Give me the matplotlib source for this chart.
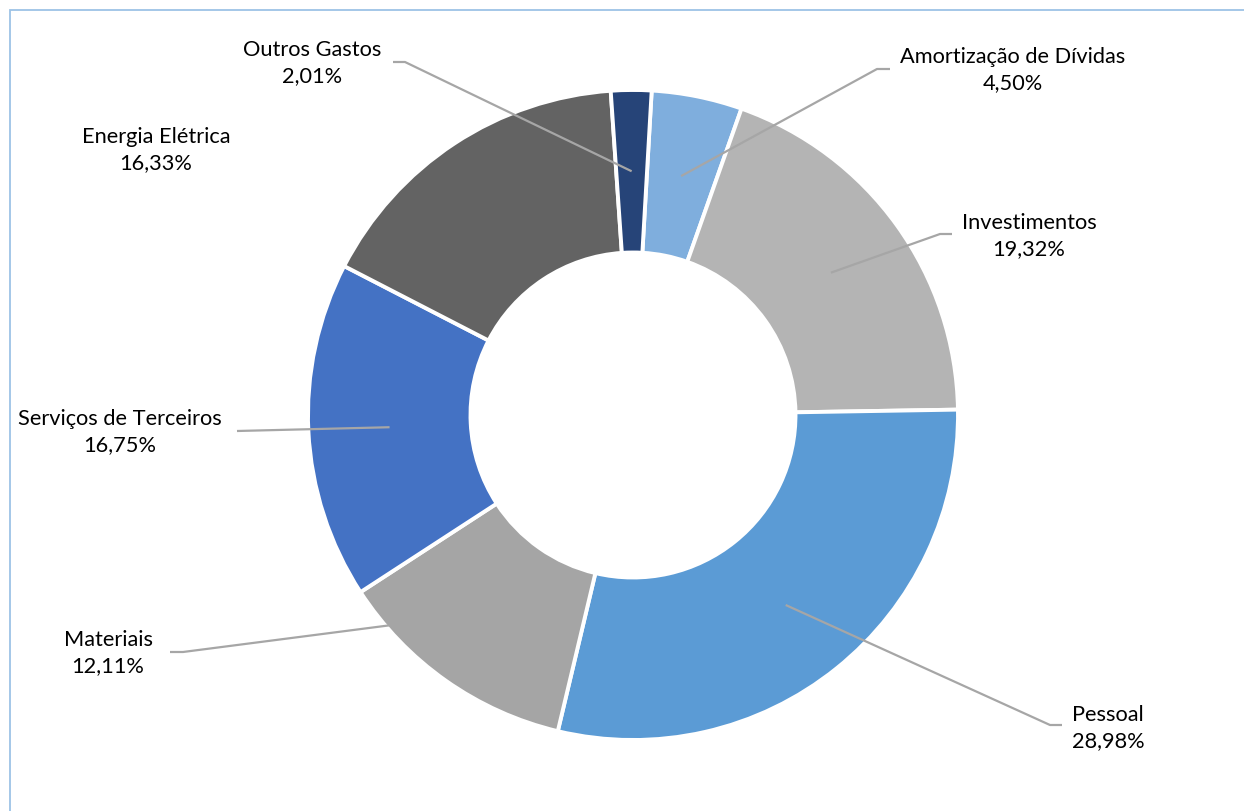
import numpy as np
import matplotlib
matplotlib.use("Agg")
import matplotlib.pyplot as plt
from matplotlib.patches import Rectangle

# Budget composition by expense group (%)
categories = ["Amortização de Dívidas", "Investimentos", "Pessoal", "Materiais",
              "Serviços de Terceiros", "Energia Elétrica", "Outros Gastos"]
shares = [4.50, 19.32, 28.98, 12.11, 16.75, 16.33, 2.01]
colors = ["#7FAEDD", "#B4B4B4", "#5B9BD5", "#A5A5A5", "#4472C4", "#636363", "#264478"]

W, H = 1244, 811
plt.rcParams["font.family"] = ["Lato", "DejaVu Sans"]

fig = plt.figure(figsize=(W / 100, H / 100), dpi=100)
ax = fig.add_axes([0, 0, 1, 1])

def Y(y):
    # convert a top-based pixel row to the axes' bottom-based y
    return H - y

cx, cy = 633, Y(415)
R = 325
wedges, _ = ax.pie(shares, colors=colors, startangle=90 - 3.3, counterclock=False,
                   radius=R, center=(cx, cy),
                   wedgeprops=dict(width=R * 0.5, edgecolor="white", linewidth=2.8))
ax.set_xlim(0, W)
ax.set_ylim(0, H)
ax.set_aspect("equal")
ax.axis("off")

# chart-area border
ax.add_patch(Rectangle((9.5, Y(1000)), 1400, Y(9.5) - Y(1000), fill=False,
                       edgecolor="#9DC3E6", linewidth=1.3, zorder=0))

# label layout: text centre, elbow points (top-based pixels), anchor radius fraction, angle shift
layout = {
    "Amortização de Dívidas": ((1013, 70), [(890, 69), (877, 69)], 0.75, 0),
    "Investimentos": ((1029, 236), [(952, 234), (940, 234)], 0.75, 0),
    "Pessoal": ((1108, 728), [(1062, 725), (1050, 725)], 0.75, 0),
    "Materiais": ((108, 653), [(170, 652), (183, 652)], 0.99, -14),
    "Serviços de Terceiros": ((120, 432), [(237, 431)], 0.75, 0),
    "Energia Elétrica": ((156, 150), None, 0.75, 0),
    "Outros Gastos": ((312, 63), [(393, 62), (405, 62)], 0.75, 0),
}

for w, name, val in zip(wedges, categories, shares):
    (tx, ty), elbow, rf, dang = layout[name]
    label = f"{name}\n{val:.2f}%".replace(".", ",")
    ax.text(tx, Y(ty), label, ha="center", va="center", fontsize=15.7,
            color="#000000", linespacing=1.38)
    if elbow is None:
        continue
    mid = np.deg2rad((w.theta1 + w.theta2) / 2 + dang)
    ax_pt = (cx + rf * R * np.cos(mid), cy + rf * R * np.sin(mid))
    xs = [p[0] for p in elbow] + [ax_pt[0]]
    ys = [Y(p[1]) for p in elbow] + [ax_pt[1]]
    ax.plot(xs, ys, color="#A6A6A6", linewidth=1.6, solid_capstyle="butt", zorder=5)

fig.savefig("out.png", dpi=100, facecolor="white")
